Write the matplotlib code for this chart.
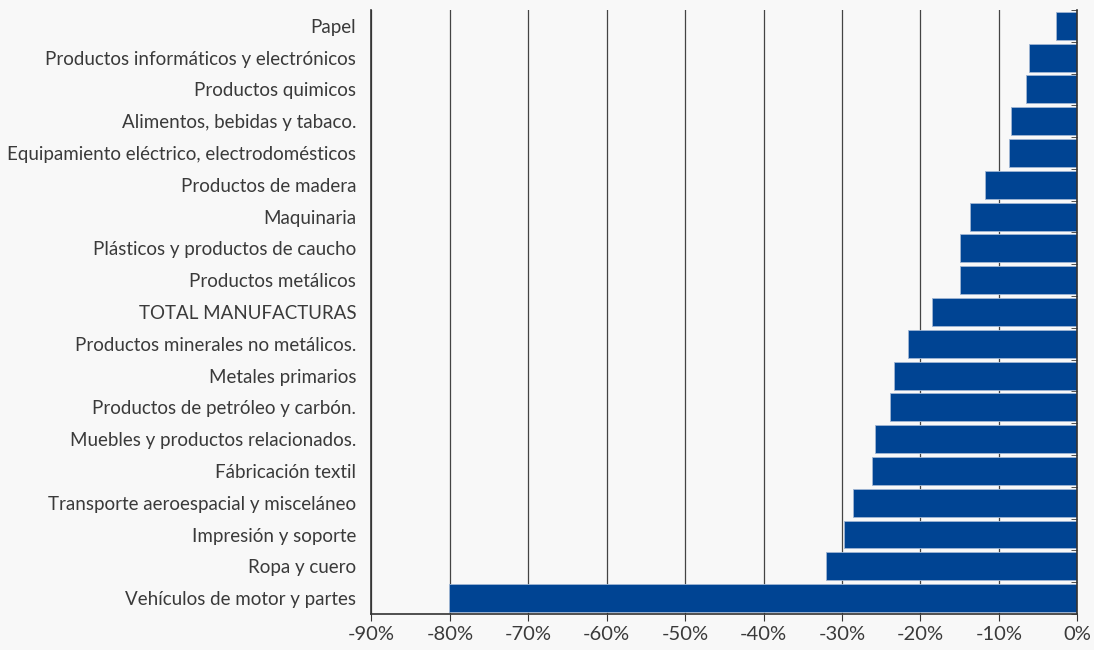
import matplotlib
matplotlib.use("Agg")
import matplotlib.pyplot as plt
import numpy as np

categories = [
    "Papel",
    "Productos informáticos y electrónicos",
    "Productos quimicos",
    "Alimentos, bebidas y tabaco.",
    "Equipamiento eléctrico, electrodomésticos",
    "Productos de madera",
    "Maquinaria",
    "Plásticos y productos de caucho",
    "Productos metálicos",
    "TOTAL MANUFACTURAS",
    "Productos minerales no metálicos.",
    "Metales primarios",
    "Productos de petróleo y carbón.",
    "Muebles y productos relacionados.",
    "Fábricación textil",
    "Transporte aeroespacial y misceláneo",
    "Impresión y soporte",
    "Ropa y cuero",
    "Vehículos de motor y partes",
]
values = [-2.7, -6.1, -6.5, -8.5, -8.7, -11.8, -13.7, -14.9, -15.0, -18.5,
          -21.6, -23.4, -23.9, -25.8, -26.2, -28.6, -29.7, -32.0, -80.1]
xticks = list(range(-90, 1, 10))

bg = "#f8f8f8"
txt = "#3a3a3a"
plt.rcParams['font.family'] = ['Lato', 'DejaVu Sans']

fig = plt.figure(figsize=(10.94, 6.5), dpi=100, facecolor=bg)
ax = fig.add_axes([0.3395, 0.0554, 0.6452, 0.9293])
ax.set_facecolor(bg)

y = np.arange(len(categories))
ax.barh(y, values, height=0.88, color="#004493", edgecolor="#9fb6d4",
        linewidth=0.6, zorder=2)

ax.set_xlim(-90, 0)
ax.set_ylim(len(categories) - 0.5, -0.47)
ax.set_xticks(xticks)
ax.set_xticklabels([f"{t}%" for t in xticks], fontsize=14.5, color=txt)
ax.set_yticks(y)
ax.set_yticklabels(categories, fontsize=13.5, color=txt)
ax.set_yticks(np.arange(len(categories) + 1) - 0.5, minor=True)

ax.tick_params(axis="y", which="major", length=0, pad=11)
ax.tick_params(axis="y", which="minor", left=False, right=True,
               direction="in", length=4, color="#333333")
ax.tick_params(axis="x", length=5, color="#333333", pad=4)

ax.grid(axis="x", color="#444444", linewidth=0.9, zorder=0)
ax.set_axisbelow(True)

ax.spines["top"].set_visible(False)
for s in ["left", "right", "bottom"]:
    ax.spines[s].set_color("#333333")
    ax.spines[s].set_linewidth(1.2)

fig.savefig("out.png", dpi=100, facecolor=bg)
